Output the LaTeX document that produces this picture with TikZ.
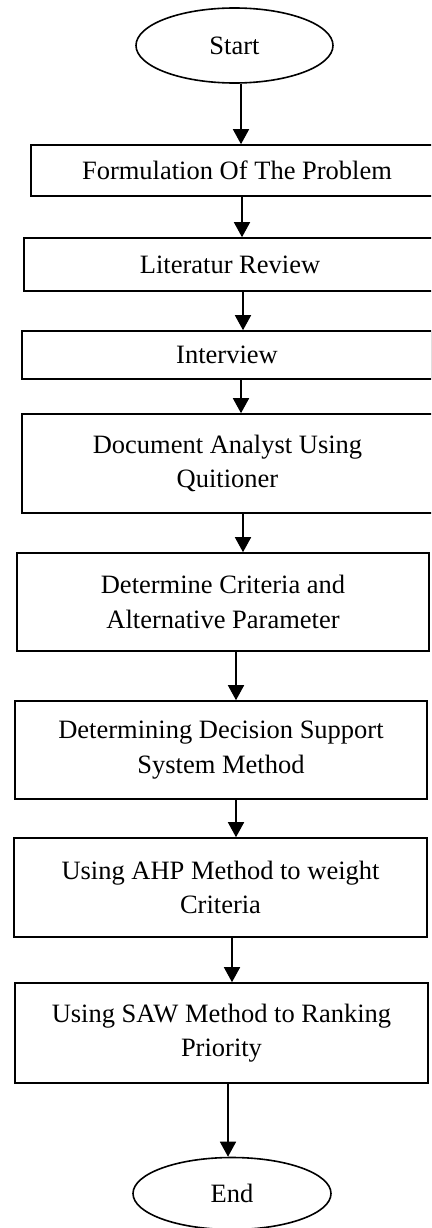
\documentclass[tikz,border=0pt]{standalone}
\usepackage{fontspec}
\setmainfont{Liberation Serif}
\usetikzlibrary{arrows.meta,shapes.geometric}
\tikzset{
  flowbox/.style={draw, line width=1.6pt, rectangle, inner sep=0pt, align=center,
    font=\fontsize{26.5}{34.5}\selectfont},
  term/.style={draw, line width=1.6pt, ellipse, inner sep=0pt,
    minimum width=197pt, minimum height=75pt, font=\fontsize{26.5}{34.5}\selectfont},
  arr/.style={line width=1.6pt, -{Triangle[width=16pt,length=15pt]}}
}
\begin{document}
\begin{tikzpicture}[x=1pt,y=-1pt]
\path[use as bounding box, clip] (0,0) rectangle (431,1228);
\node[term] (start) at (234.5,45.5) {Start};
\node[flowbox, minimum width=412pt, minimum height=51pt] (b1) at (237,170.5) {Formulation Of The Problem};
\node[flowbox, minimum width=412pt, minimum height=53pt] (b2) at (230,264.5) {Literatur Review};
\node[flowbox, minimum width=410pt, minimum height=48pt] (b3) at (227,355) {Interview};
\node[flowbox, minimum width=411pt, minimum height=99pt] (b4) at (227.5,463.5) {Document Analyst Using\\Quitioner};
\node[flowbox, minimum width=412pt, minimum height=98pt] (b5) at (223,602) {Determine Criteria and\\Alternative Parameter};
\node[flowbox, minimum width=412pt, minimum height=98pt] (b6) at (221,750) {Determining Decision Support\\System Method};
\node[flowbox, minimum width=413pt, minimum height=99pt] (b7) at (220.5,887.5) {Using AHP Method to weight\\Criteria};
\node[flowbox, minimum width=413pt, minimum height=100pt] (b8) at (221.5,1033) {Using SAW Method to Ranking\\Priority};
\node[term, minimum width=198pt, minimum height=72pt] (end) at (232,1193.5) {End};
\coordinate (x0) at (241,0);
\coordinate (x1) at (242,0);
\coordinate (x2) at (243,0);
\coordinate (x3) at (241,0);
\coordinate (x4) at (243,0);
\coordinate (x5) at (236,0);
\coordinate (x6) at (236,0);
\coordinate (x7) at (232,0);
\coordinate (x8) at (228,0);
\draw[arr] (start.south -| x0) -- (b1.north -| x0);
\draw[arr] (b1.south -| x1) -- (b2.north -| x1);
\draw[arr] (b2.south -| x2) -- (b3.north -| x2);
\draw[arr] (b3.south -| x3) -- (b4.north -| x3);
\draw[arr] (b4.south -| x4) -- (b5.north -| x4);
\draw[arr] (b5.south -| x5) -- (b6.north -| x5);
\draw[arr] (b6.south -| x6) -- (b7.north -| x6);
\draw[arr] (b7.south -| x7) -- (b8.north -| x7);
\draw[arr] (b8.south -| x8) -- (end.north -| x8);
\end{tikzpicture}
\end{document}
